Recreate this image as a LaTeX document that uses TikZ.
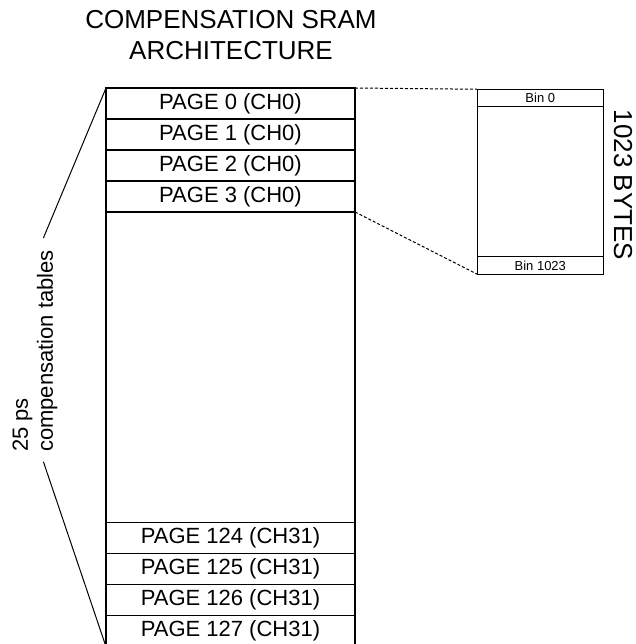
\documentclass[tikz,border=0pt]{standalone}
\usepackage{fontspec}
\setmainfont{Liberation Sans}
\usetikzlibrary{positioning}

\begin{document}
\begin{tikzpicture}[x=0.5pt,y=-0.5pt,
      page/.style={draw,line width=0.7pt,minimum width=124.5pt,minimum height=15.5pt,
                   inner sep=0pt,outer sep=0pt,font=\fontsize{11}{13}\selectfont},
      bin/.style={draw,line width=0.7pt,minimum width=63pt,minimum height=8.75pt,
                  inner sep=0pt,outer sep=0pt,font=\fontsize{6.5}{7.5}\selectfont},
      frame/.style={line width=0.7pt},
      link/.style={line width=0.5pt,dash pattern=on 1.5pt off 1pt},
      span/.style={line width=0.5pt}]
    \useasboundingbox (0,0) rectangle (636,644);
    \node[font=\fontsize{13}{15.5}\selectfont,align=center] (title) at (231,35.5)
      {COMPENSATION SRAM\\ARCHITECTURE};
    % pages of the SRAM
    \node[page] (p0) at (230.5,103.5) {PAGE 0 (CH0)};
    \node[page,below=0pt of p0] (p1) {PAGE 1 (CH0)};
    \node[page,below=0pt of p1] (p2) {PAGE 2 (CH0)};
    \node[page,below=0pt of p2] (p3) {PAGE 3 (CH0)};
    \node[page] (p127) at (230.5,631.2) {PAGE 127 (CH31)};
    \node[page,above=0pt of p127] (p126) {PAGE 126 (CH31)};
    \node[page,above=0pt of p126] (p125) {PAGE 125 (CH31)};
    \node[page,above=0pt of p125] (p124) {PAGE 124 (CH31)};
    \draw[frame] (p3.south west) -- (p124.north west);
    \draw[frame] (p3.south east) -- (p124.north east);
    % one page in detail
    \node[bin] (bin0) at (540.3,98) {Bin 0};
    \node[bin] (bin1023) at (540.3,265.5) {Bin 1023};
    \draw[frame] (bin0.south west) -- (bin1023.north west);
    \draw[frame] (bin0.south east) -- (bin1023.north east);
    \draw[link] (p0.north east) -- (bin0.north west);
    \draw[link] (p3.south east) -- (bin1023.south west);
    \node[font=\fontsize{13}{15.5}\selectfont,rotate=-90] (bytes) at (623,185) {1023 BYTES};
    % left span label
    \node[font=\fontsize{11}{12.4}\selectfont,rotate=90,align=left] (tables) at (35,351)
      {25 ps\\compensation tables};
    \coordinate (ltop) at (43.4,238);
    \coordinate (lbot) at (43.4,461.7);
    \draw[span] (p0.north west) -- (ltop);
    \draw[span] (lbot) -- (p127.south west);
  \end{tikzpicture}
\end{document}
